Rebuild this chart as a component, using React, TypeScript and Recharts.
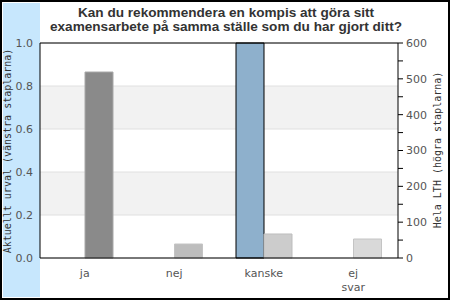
import React from 'react';
import { ComposedChart, Bar, XAxis, YAxis, CartesianGrid, Cell, ReferenceLine } from 'recharts';

const categories = ['ja', 'nej', 'kanske', 'ej svar'];
const urvalValues: (number | null)[] = [null, null, 1.0, null];
const lthValues = [519, 39, 67, 53];
const lthColors = ['#8a8a8a', '#bdbdbd', '#cccccc', '#d9d9d9'];
const lthStrokes = ['#a8a8a8', '#c4c4c4', '#bdbdbd', '#c4c4c4'];
const leftTicks = [0, 0.2, 0.4, 0.6, 0.8, 1.0];
const rightTicks = [0, 50, 100, 150, 200, 250, 300, 350, 400, 450, 500, 550, 600];
const titleLines = ['Kan du rekommendera en kompis att göra sitt', 'examensarbete på samma ställe som du har gjort ditt?'];
const leftLabel = 'Aktuellt urval (vänstra staplarna)';
const rightLabel = 'Hela LTH (högra staplarna)';

const data = categories.map((c, i) => ({ name: c, urval: urvalValues[i], lth: lthValues[i] }));

const FONT = '"DejaVu Sans", sans-serif';

const XTick = (props: any) => {
  const { x, y, payload } = props;
  const lines = String(payload.value).split(' ');
  return (
    <g>
      {lines.map((l, i) => (
        <text key={i} x={x} y={y + 19 + i * 14} textAnchor="middle" fontSize={11} fontFamily={FONT} fill="#555">
          {l}
        </text>
      ))}
    </g>
  );
};

export default function App() {
  return (
    <div style={{ position: 'absolute', left: 0, top: 0, width: 450, height: 300, background: '#fff' }}>
      <div style={{ position: 'absolute', left: 3, top: 3, width: 37, height: 294, background: '#c7e7fd' }} />
      <div style={{ position: 'absolute', left: 0, top: 0 }}>
        <ComposedChart width={450} height={300} data={data} margin={{ top: 43, right: 0, bottom: 0, left: 0 }} barGap={0}>
          <CartesianGrid yAxisId="left" vertical={false} horizontalFill={['#ffffff', '#f2f2f2']} stroke="#e0e0e0" fillOpacity={1} />
          <XAxis dataKey="name" height={42} axisLine={{ stroke: '#000' }} tickLine={false} tickSize={0} tickMargin={0} tick={<XTick />} interval={0} />
          <YAxis yAxisId="left" orientation="left" width={40} domain={[0, 1]} ticks={leftTicks} tickFormatter={(v: number) => v.toFixed(1)}
            axisLine={{ stroke: '#000' }} tickLine={false} tickSize={0} tickMargin={7}
            tick={{ fontSize: 11, fontFamily: FONT, fill: '#555' }} interval={0} />
          <YAxis yAxisId="right" orientation="right" width={52} domain={[0, 600]} ticks={rightTicks}
            tickFormatter={(v: number) => (v % 100 === 0 ? String(v) : '')}
            axisLine={{ stroke: '#000' }} tickLine={{ stroke: '#000' }} tickSize={5} tickMargin={3}
            tick={{ fontSize: 11, fontFamily: FONT, fill: '#555' }} interval={0} />
          <ReferenceLine yAxisId="left" y={1} stroke="#000" />
          <Bar yAxisId="left" dataKey="urval" fill="#8eb0cc" stroke="#000" strokeWidth={1} barSize={28} isAnimationActive={false} />
          <Bar yAxisId="right" dataKey="lth" barSize={28} isAnimationActive={false}>
            {data.map((d, i) => (
              <Cell key={d.name} fill={lthColors[i]} stroke={lthStrokes[i]} />
            ))}
          </Bar>
        </ComposedChart>
      </div>
      <svg width={450} height={300} style={{ position: 'absolute', left: 0, top: 0, pointerEvents: 'none' }}>
        {titleLines.map((t, i) => (
          <text key={i} x={226} y={17 + i * 14} textAnchor="middle" fontSize={13.6} fontWeight="bold" fontFamily='"Liberation Sans", Arial, sans-serif' fill="#333">
            {t}
          </text>
        ))}
        <text transform="translate(11,151) rotate(-90)" textAnchor="middle" fontSize={10} fontFamily='"DejaVu Sans Mono", monospace' fill="#333">
          {leftLabel}
        </text>
        <text transform="translate(441,150) rotate(-90)" textAnchor="middle" fontSize={10} fontFamily='"DejaVu Sans Mono", monospace' fill="#333">
          {rightLabel}
        </text>
      </svg>
      <div style={{ position: 'absolute', left: 0, top: 0, width: 450, height: 300, border: '2px solid #000', boxSizing: 'border-box', pointerEvents: 'none' }} />
    </div>
  );
}
